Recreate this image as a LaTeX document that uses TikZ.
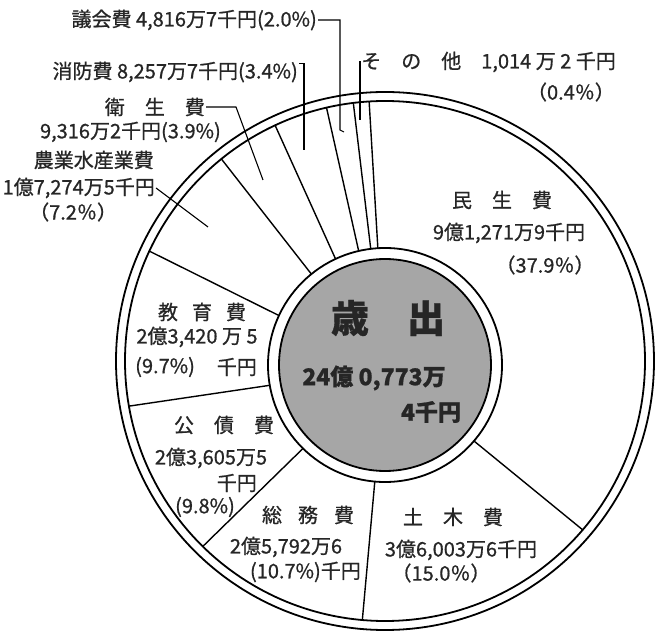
\documentclass[tikz,border=0pt]{standalone}
\usepackage{fontspec}
\newfontfamily\jp{Noto Sans CJK JP}[FakeBold = 0.8]
\usetikzlibrary{calc}

\begin{document}
\begin{tikzpicture}[x = 1pt, y = 1pt, font = \jp\fontsize{20}{22}\selectfont]
    \tikzset{
      ring/.style = {draw, line width = 1.8pt},
      slice/.style = {line width = 1.4pt},
      leader/.style = {line width = 1.1pt},
      tag/.style = {inner sep = 1pt, text = black!85},
    }
    \useasboundingbox (0, 0) rectangle (656, 632);
    \coordinate (outer) at (385, 271);
    \coordinate (inner) at (385, 267);

    \draw[ring] (outer) circle (269);
    \draw[ring] (outer) circle (260);
    \draw[ring] (inner) circle (117);
    \draw[ring, fill = black!35] (inner) circle (106);

    \foreach \a in {93.5, 97, 103, 115, 129, 155, 190, 225.5, 265, 319.5}
      \draw[slice] ($(inner) + (\a:117)$) -- ($(outer) + (\a:260)$);

    % centre
    \node[tag] (saishutsu) at (388, 314) {\bfseries\fontsize{38}{40}\selectfont 歳　出};
    \node[tag] (sogaku) at (374, 254) {\bfseries\fontsize{23}{25}\selectfont 24億 0,773万};
    \node[tag] (sogaku-s) at (431, 220) {\bfseries\fontsize{23}{25}\selectfont 4千円};

    % slices with text inside
    \node[tag] (minsei) at (502, 432) {民　生　費};
    \node[tag] (minsei-v) at (509, 399) {9億1,271万9千円};
    \node[tag] (minsei-p) at (545, 367) {（37.9％）};

    \node[tag] (doboku) at (453, 115) {土　木　費};
    \node[tag] (doboku-v) at (461, 82) {3億6,003万6千円};
    \node[tag] (doboku-p) at (441, 59) {（15.0％）};

    \node[tag] (somu) at (308, 117) {総\hspace{.8em}務\hspace{.8em}費};
    \node[tag] (somu-v) at (286, 85) {2億5,792万6};
    \node[tag, anchor = east] (somu-p) at (362, 60) {(10.7\%)千円};

    \node[tag] (kosai) at (224, 207) {公　債　費};
    \node[tag] (kosai-v) at (211, 174) {2億3,605万5};
    \node[tag, anchor = east] (kosai-s) at (258, 149) {千円};
    \node[tag] (kosai-p) at (205, 125) {(9.8\%)};

    \node[tag] (kyoiku) at (202, 320) {教\hspace{.7em}育\hspace{.7em}費};
    \node[tag] (kyoiku-v) at (197, 295) {2億3,420 万 5};
    \node[tag, anchor = west] (kyoiku-p) at (134, 265) {(9.7\%)};
    \node[tag, anchor = east] (kyoiku-s) at (258, 265) {千円};

    % small slices, labels outside
    \node[tag, anchor = east] (nogyo) at (155, 472) {農業水産業費};
    \node[tag, anchor = east] (nogyo-v) at (156, 444) {1億7,274万5千円};
    \node[tag, anchor = west] (nogyo-p) at (28, 420) {（7.2％）};
    \coordinate (nogyo-pt) at (208, 405);
    \draw[leader] (nogyo-v.east) -- (nogyo-pt);

    \node[tag, anchor = east] (eisei) at (206, 525) {衛　生　費};
    \node[tag, anchor = east] (eisei-v) at (222, 500) {9,316万2千円(3.9\%)};
    \coordinate (eisei-pt) at (263, 452);
    \draw[leader] (eisei.east) -- ++(30, 0) -- (eisei-pt);

    \node[tag, anchor = east] (shobo) at (299, 560) {消防費 8,257万7千円(3.4\%)};
    \coordinate (shobo-pt) at (304, 482);
    \draw[leader] ($(shobo.north east) + (0, -3)$) -| (shobo-pt);

    \node[tag, anchor = east] (gikai) at (318, 612) {議会費 4,816万7千円(2.0\%)};
    \coordinate (gikai-pt) at (340, 502);
    \draw[leader] (gikai.east) -| (gikai-pt) -- ++(4, -2);

    \node[tag, anchor = east] (sonota) at (617, 570) {そ　の　他　1,014 万 2 千円};
    \node[tag, anchor = east] (sonota-p) at (616, 540) {（0.4％）};
    \coordinate (sonota-pt) at (360, 512);
    \draw[leader] (sonota.west) -| (sonota-pt);
  \end{tikzpicture}
\end{document}
